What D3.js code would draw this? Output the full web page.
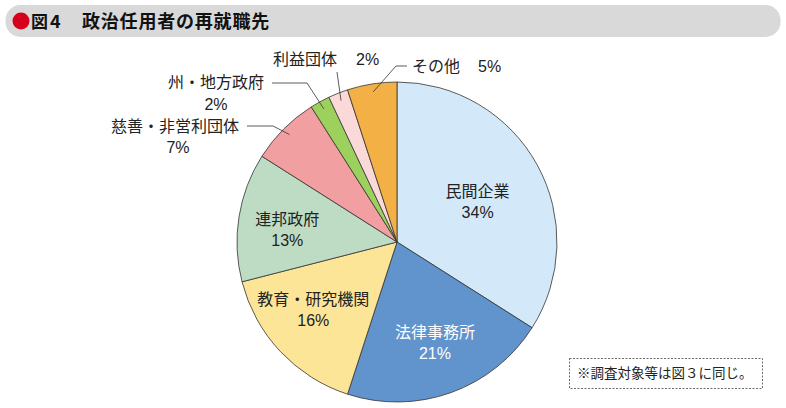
<!DOCTYPE html>
<html><head><meta charset="utf-8">
<script src="https://cdn.jsdelivr.net/npm/d3@7"></script>
<style>
body{margin:0;background:#fff;}
svg{display:block;font-family:"Noto Sans CJK JP","Noto Sans",sans-serif;}
.num{font-family:"Liberation Sans",Arial,sans-serif;}
</style></head>
<body><svg id="c" width="786" height="408"></svg>
<script>
const categories = ["民間企業","法律事務所","教育・研究機関","連邦政府","慈善・非営利団体","州・地方政府","利益団体","その他"];
const values = [34,21,16,13,7,2,2,5];
const colors = ["#d3e9f9","#6193cd","#fde597","#bedcc3","#f29fa1","#9dd15d","#fbd9d9","#f2b045"];
const figNo = ["図","4"];
const title = "政治任用者の再就職先";
const note = "※調査対象等は図３に同じ。";

const svg = d3.select("#c");
// title bar
svg.append("rect").attr("x",5.5).attr("y",5).attr("width",775).attr("height",32).attr("rx",15).attr("fill","#d9d9d9");
svg.append("circle").attr("cx",21).attr("cy",21).attr("r",8.5).attr("fill","#d6001c");
svg.append("text").attr("x",31).attr("y",28).attr("font-size",17).attr("font-weight","bold").attr("fill","#111").text(figNo[0]);
svg.append("text").attr("x",50).attr("y",28).attr("font-size",18).attr("font-weight","bold").attr("fill","#111").text(figNo[1]);
svg.append("text").attr("x",82).attr("y",28).attr("font-size",18).attr("letter-spacing",0.8).attr("font-weight","bold").attr("fill","#111").text(title);

const cx=397, cy=242, R=160;
const pie = d3.pie().sort(null).value(d=>d)(values);
const arc = d3.arc().innerRadius(0).outerRadius(R);
const g = svg.append("g").attr("transform",`translate(${cx},${cy})`);
g.selectAll("path").data(pie).join("path").attr("d",arc)
 .attr("fill",(d,i)=>colors[i]).attr("stroke","#333").attr("stroke-width",0.8);

const fs=16;
// inside labels: [index, radius, dx, dy, colour]
const inside = [[0,92,0,-1,"#222"],[1,106,2,-4,"#fff"],[2,108,-5,-11,"#222"],[3,106,-5,0,"#222"]];
inside.forEach(([i,r,dx,dy,col])=>{
  const c = d3.arc().innerRadius(r).outerRadius(r).centroid(pie[i]);
  g.append("text").attr("text-anchor","middle").attr("font-size",fs).attr("fill",col)
   .attr("x",c[0]+dx).attr("y",c[1]+dy).text(categories[i]);
  g.append("text").attr("class","num").attr("text-anchor","middle").attr("font-size",fs).attr("fill",col)
   .attr("x",c[0]+dx).attr("y",c[1]+dy+21).text(values[i]+"%");
});

// outside labels with leaders
const la = d3.arc().innerRadius(152).outerRadius(152);
const outs = [
  {i:7, elbow:[407,66], knee:[396,66]},
  {i:6, elbow:[337,72], knee:null},
  {i:5, elbow:[272,83], knee:[307,83]},
  {i:4, elbow:[247,126], knee:[273,126]}
];
outs.forEach(o=>{
  const p = la.centroid(pie[o.i]);
  const end=[cx+p[0],cy+p[1]];
  const pts=[o.elbow]; if(o.knee) pts.push(o.knee); pts.push(end);
  svg.append("path").attr("d",d3.line()(pts)).attr("fill","none").attr("stroke","#333").attr("stroke-width",0.8);
});
function txt(x,y,s,anchor,cls){svg.append("text").attr("class",cls||null).attr("x",x).attr("y",y).attr("text-anchor",anchor||"start").attr("font-size",fs).attr("fill","#222").text(s);}
txt(412,72,categories[7]);
txt(478,72,values[7]+"%","start","num");
txt(273,65,categories[6]);
txt(356,65,values[6]+"%","start","num");
txt(216,88,categories[5],"middle");
txt(216,110,values[5]+"%","middle","num");
txt(175,132,categories[4],"middle");
txt(178,153,values[4]+"%","middle","num");

// note
svg.append("rect").attr("x",569.5).attr("y",358.5).attr("width",193).attr("height",30).attr("fill","none").attr("stroke","#444").attr("stroke-width",0.8).attr("stroke-dasharray","2,1.5");
svg.append("text").attr("x",577).attr("y",378).attr("font-size",13.5).attr("fill","#222").text(note);
</script></body></html>
